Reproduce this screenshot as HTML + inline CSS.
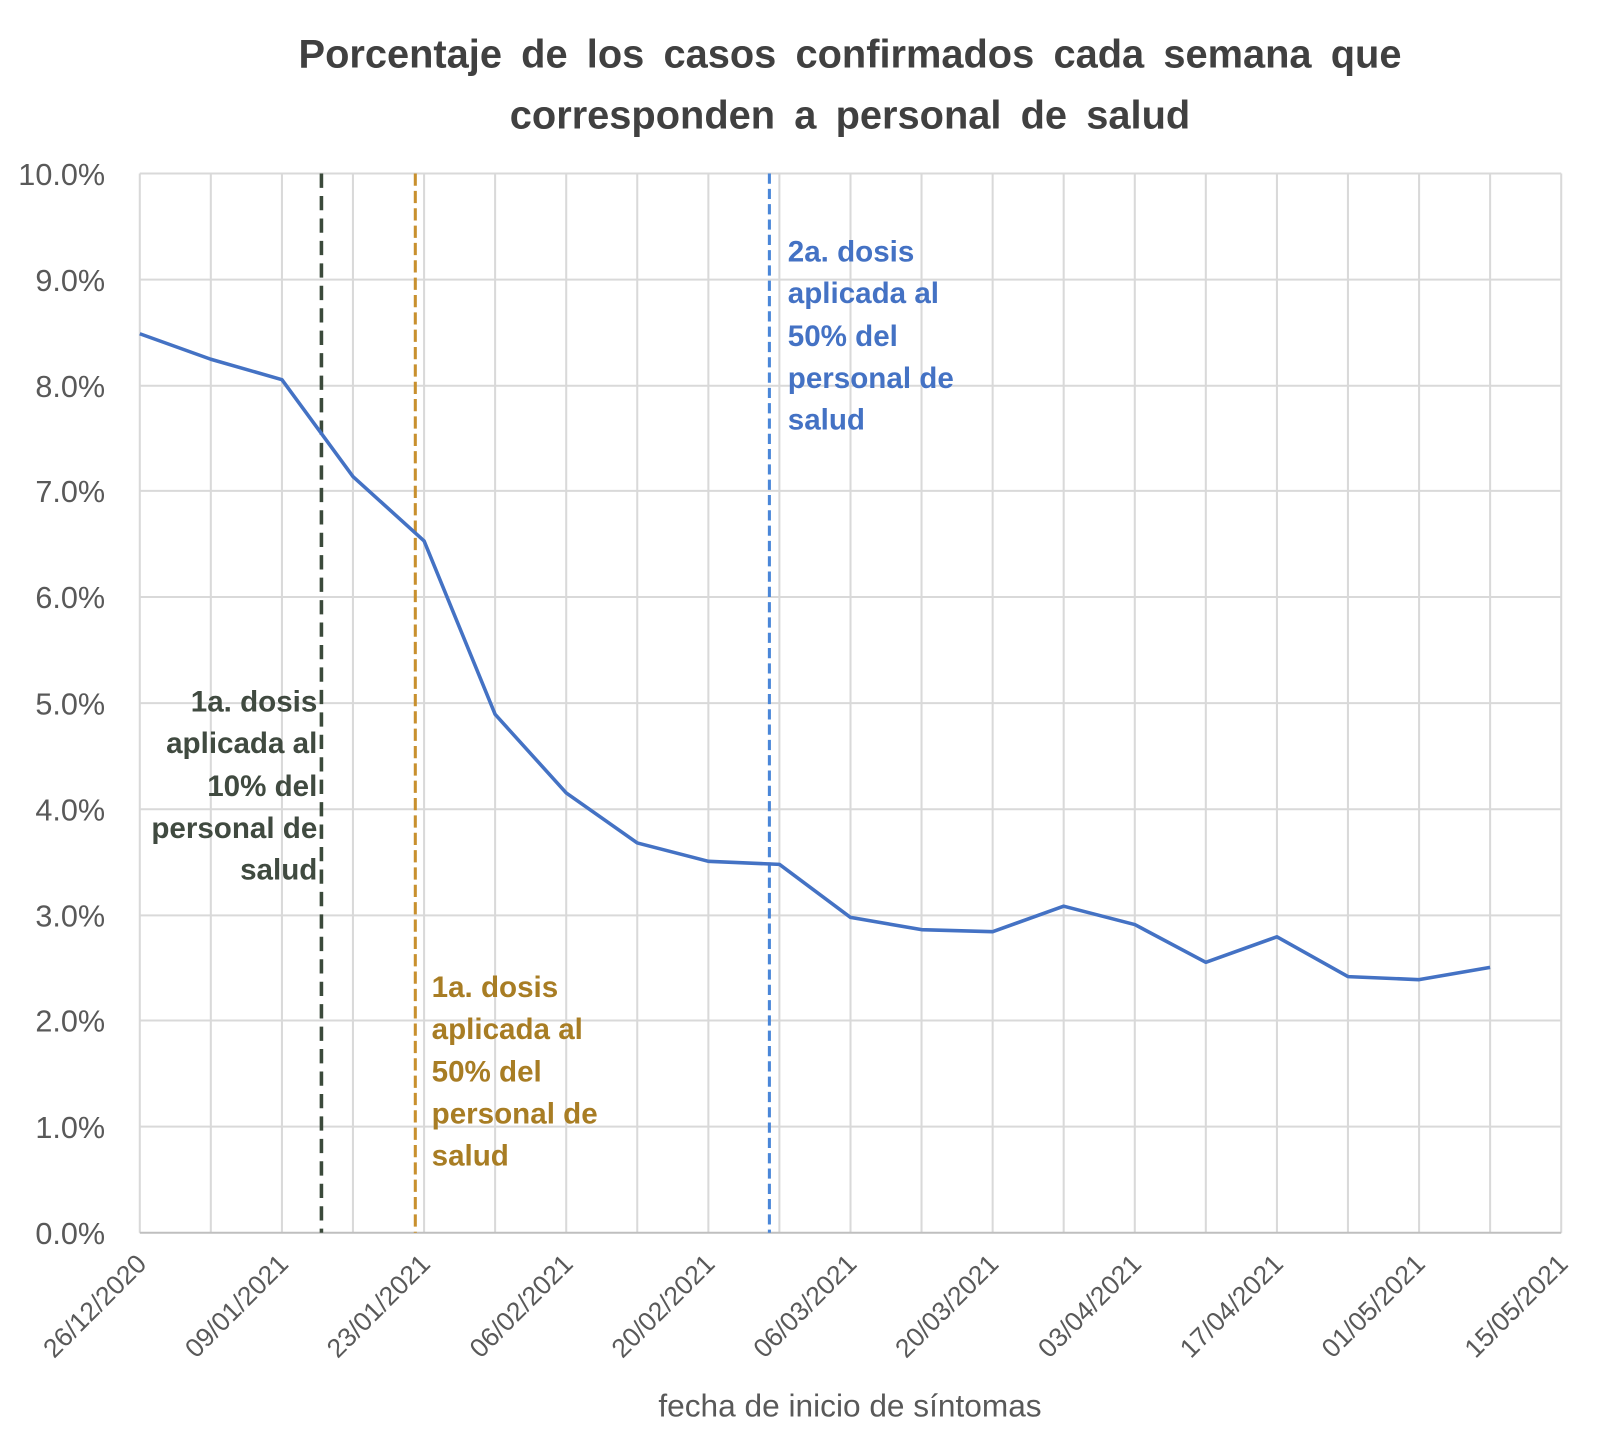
<!DOCTYPE html>
<html><head><meta charset="utf-8"><style>
body{margin:0;background:#fff}
svg{display:block}
text{font-family:"Liberation Sans",sans-serif}
</style></head><body>
<svg width="1600" height="1443" viewBox="0 0 1568 1414" xmlns="http://www.w3.org/2000/svg">
<rect width="1568" height="1414" fill="#fff"/>
<text x="833" y="66" text-anchor="middle" font-size="39" font-weight="bold" fill="#404040" word-spacing="8">Porcentaje de los casos confirmados cada semana que</text>
<text x="833" y="126" text-anchor="middle" font-size="39" font-weight="bold" fill="#404040" word-spacing="8">corresponden a personal de salud</text>
<g stroke="#d9d9d9" stroke-width="2">
<line x1="137" y1="170" x2="1530" y2="170"/><line x1="137" y1="274" x2="1530" y2="274"/><line x1="137" y1="378" x2="1530" y2="378"/><line x1="137" y1="481" x2="1530" y2="481"/><line x1="137" y1="585" x2="1530" y2="585"/><line x1="137" y1="689" x2="1530" y2="689"/><line x1="137" y1="793" x2="1530" y2="793"/><line x1="137" y1="897" x2="1530" y2="897"/><line x1="137" y1="1000" x2="1530" y2="1000"/><line x1="137" y1="1104" x2="1530" y2="1104"/>
<line x1="137" y1="170" x2="137" y2="1208"/><line x1="206.6" y1="170" x2="206.6" y2="1208"/><line x1="276.3" y1="170" x2="276.3" y2="1208"/><line x1="345.9" y1="170" x2="345.9" y2="1208"/><line x1="415.6" y1="170" x2="415.6" y2="1208"/><line x1="485.2" y1="170" x2="485.2" y2="1208"/><line x1="554.9" y1="170" x2="554.9" y2="1208"/><line x1="624.5" y1="170" x2="624.5" y2="1208"/><line x1="694.2" y1="170" x2="694.2" y2="1208"/><line x1="763.8" y1="170" x2="763.8" y2="1208"/><line x1="833.5" y1="170" x2="833.5" y2="1208"/><line x1="903.1" y1="170" x2="903.1" y2="1208"/><line x1="972.8" y1="170" x2="972.8" y2="1208"/><line x1="1042.4" y1="170" x2="1042.4" y2="1208"/><line x1="1112.1" y1="170" x2="1112.1" y2="1208"/><line x1="1181.7" y1="170" x2="1181.7" y2="1208"/><line x1="1251.4" y1="170" x2="1251.4" y2="1208"/><line x1="1321" y1="170" x2="1321" y2="1208"/><line x1="1390.7" y1="170" x2="1390.7" y2="1208"/><line x1="1460.3" y1="170" x2="1460.3" y2="1208"/><line x1="1530" y1="170" x2="1530" y2="1208"/>
<line x1="137" y1="1208" x2="1530" y2="1208" stroke="#bfbfbf"/>
</g>
<g font-size="30" fill="#595959" text-anchor="end">
<text x="103" y="181">10.0%</text><text x="103" y="285">9.0%</text><text x="103" y="389">8.0%</text><text x="103" y="492">7.0%</text><text x="103" y="596">6.0%</text><text x="103" y="700">5.0%</text><text x="103" y="804">4.0%</text><text x="103" y="908">3.0%</text><text x="103" y="1011">2.0%</text><text x="103" y="1115">1.0%</text><text x="103" y="1219">0.0%</text>
</g>
<g font-size="26" fill="#595959" text-anchor="end">
<text transform="translate(145,1240) rotate(-45)">26/12/2020</text>
<text transform="translate(284,1240) rotate(-45)">09/01/2021</text>
<text transform="translate(423,1240) rotate(-45)">23/01/2021</text>
<text transform="translate(563,1240) rotate(-45)">06/02/2021</text>
<text transform="translate(702,1240) rotate(-45)">20/02/2021</text>
<text transform="translate(841,1240) rotate(-45)">06/03/2021</text>
<text transform="translate(980,1240) rotate(-45)">20/03/2021</text>
<text transform="translate(1120,1240) rotate(-45)">03/04/2021</text>
<text transform="translate(1259,1240) rotate(-45)">17/04/2021</text>
<text transform="translate(1398,1240) rotate(-45)">01/05/2021</text>
<text transform="translate(1538,1240) rotate(-45)">15/05/2021</text>
</g>
<text x="833" y="1388" text-anchor="middle" font-size="31" fill="#595959">fecha de inicio de síntomas</text>
<line x1="315" y1="170" x2="315" y2="1208" stroke="#3b4a3b" stroke-width="3.5" stroke-dasharray="14,8"/>
<line x1="407" y1="170" x2="407" y2="1208" stroke="#c8902e" stroke-width="3" stroke-dasharray="12,5"/>
<line x1="754" y1="170" x2="754" y2="1208" stroke="#4a86d8" stroke-width="3" stroke-dasharray="10,5"/>
<polyline fill="none" stroke="#4472c4" stroke-width="3.5" stroke-linejoin="round" points="137,327 206.6,352 276.3,372 345.9,467 415.6,530 485.2,700 554.9,777 624.5,826 694.2,844 763.8,847 833.5,899 903.1,911 972.8,913 1042.4,888 1112.1,906 1181.7,943 1251.4,918 1321,957 1390.7,960 1460.3,948"/>
<g font-size="29" font-weight="bold" fill="#404a40" text-anchor="end">
<text x="311" y="697">1a. dosis</text><text x="311" y="738">aplicada al</text><text x="311" y="780">10% del</text><text x="311" y="821">personal de</text><text x="311" y="862">salud</text>
</g>
<g font-size="29" font-weight="bold" fill="#a87d24">
<text x="423" y="977">1a. dosis</text><text x="423" y="1018">aplicada al</text><text x="423" y="1060">50% del</text><text x="423" y="1101">personal de</text><text x="423" y="1142">salud</text>
</g>
<g font-size="29" font-weight="bold" fill="#4472c4">
<text x="772" y="256">2a. dosis</text><text x="772" y="297">aplicada al</text><text x="772" y="339">50% del</text><text x="772" y="380">personal de</text><text x="772" y="421">salud</text>
</g>
</svg>
</body></html>
